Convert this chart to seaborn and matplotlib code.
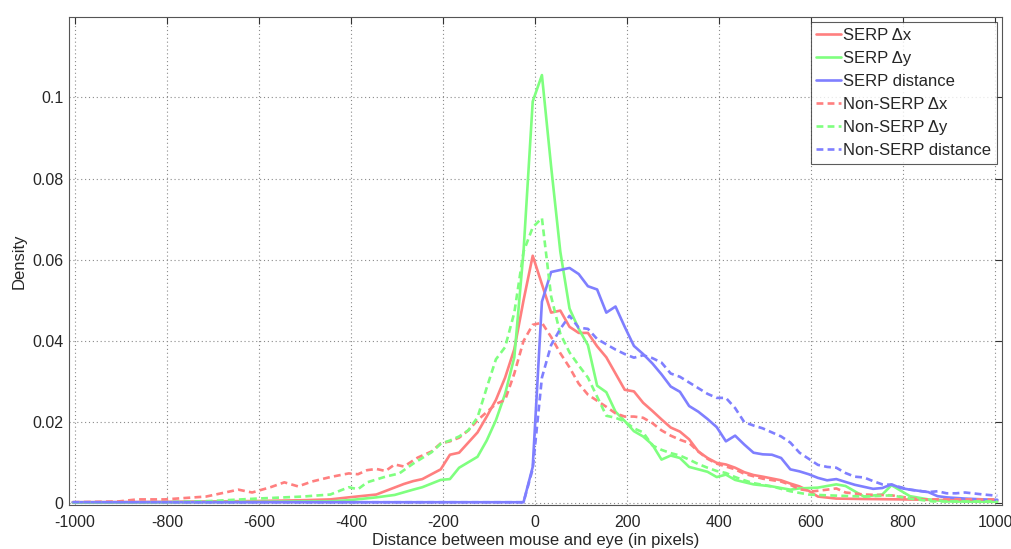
import matplotlib
matplotlib.use("Agg")
import matplotlib.pyplot as plt
import seaborn as sns
import pandas as pd

# ---------------- data ----------------
serp_dx_x = [-1005, -805, -605, -505, -445, -405, -345, -285, -265, -245, -205, -185, -165, -125, -105, -85, -65, -45, -25, -5,
             15, 35, 55, 75, 95, 115, 135, 155, 175, 195, 215, 235, 255, 275, 295, 315, 335, 355, 375, 395, 415, 435, 455, 475,
             495, 535, 555, 575, 595, 615, 655, 715, 795, 855, 915, 1005]
serp_dx_y = [0.0003, 0.0004, 0.0006, 0.0008, 0.001, 0.0015, 0.0022, 0.0048, 0.0055, 0.006, 0.0084, 0.012, 0.0125, 0.0175, 0.0214,
             0.0255, 0.031, 0.038, 0.05, 0.061, 0.054, 0.047, 0.0475, 0.0435, 0.042, 0.042, 0.0387, 0.036, 0.032, 0.028, 0.0276,
             0.0248, 0.0228, 0.0207, 0.0187, 0.0177, 0.0158, 0.0128, 0.0112, 0.0100, 0.0096, 0.0088, 0.0077, 0.007, 0.0066,
             0.0057, 0.0049, 0.0042, 0.0031, 0.0017, 0.0012, 0.0011, 0.001, 0.0009, 0.0008, 0.0007]

serp_dy_x = [-1005, -805, -605, -505, -445, -405, -345, -305, -265, -245, -205, -185, -165, -125, -105, -85, -65, -45, -25, -5,
             15, 35, 55, 75, 95, 115, 135, 155, 175, 195, 215, 235, 255, 275, 295, 315, 335, 355, 375, 395, 415, 435, 475, 515,
             555, 575, 615, 655, 675, 715, 755, 775, 815, 855, 895, 1005]
serp_dy_y = [0.0002, 0.0003, 0.0004, 0.0005, 0.0005, 0.0008, 0.0015, 0.0021, 0.0034, 0.004, 0.0058, 0.006, 0.0088, 0.0115, 0.0155,
             0.0205, 0.027, 0.036, 0.062, 0.099, 0.1055, 0.083, 0.062, 0.048, 0.043, 0.039, 0.029, 0.0274, 0.0226, 0.0203, 0.0178,
             0.0165, 0.0145, 0.0108, 0.0118, 0.0112, 0.009, 0.0084, 0.0078, 0.0065, 0.0071, 0.0058, 0.0047, 0.0042, 0.0034,
             0.0037, 0.0039, 0.0047, 0.0043, 0.0017, 0.0022, 0.0045, 0.0018, 0.001, 0.0005, 0.0004]

serp_dist_x = [-1005, -25, -5, 15, 35, 55, 75, 95, 115, 135, 155, 175, 195, 215, 235, 255, 275, 295, 315, 335, 355, 375, 395, 415,
               435, 455, 475, 495, 515, 535, 555, 575, 595, 615, 635, 655, 675, 695, 715, 735, 755, 775, 795, 815, 855, 875, 895,
               935, 975, 1005]
serp_dist_y = [0.0003, 0.0003, 0.009, 0.0497, 0.057, 0.0575, 0.058, 0.0565, 0.0535, 0.0527, 0.047, 0.0485, 0.0435, 0.0388, 0.0368,
               0.0345, 0.0318, 0.0288, 0.0275, 0.024, 0.0226, 0.0208, 0.0188, 0.0153, 0.0167, 0.0145, 0.0125, 0.0121, 0.012, 0.0112,
               0.0084, 0.0079, 0.0072, 0.0063, 0.0057, 0.006, 0.0053, 0.0046, 0.0041, 0.0036, 0.0038, 0.0047, 0.0038, 0.0034,
               0.0028, 0.0018, 0.0015, 0.0012, 0.001, 0.0009]

nonserp_dx_x = [-1005, -905, -865, -805, -715, -645, -615, -575, -545, -515, -485, -445, -405, -385, -365, -345, -325, -305, -285,
                -255, -225, -205, -185, -165, -145, -125, -105, -85, -65, -45, -25, -5, 15, 35, 55, 75, 95, 115, 135, 155, 175,
                195, 215, 235, 255, 275, 295, 315, 335, 355, 375, 395, 415, 435, 455, 475, 495, 535, 555, 575, 605, 635, 655, 675,
                715, 775, 835, 1005]
nonserp_dx_y = [0.0003, 0.0005, 0.001, 0.001, 0.0017, 0.0034, 0.0027, 0.004, 0.0052, 0.0042, 0.0054, 0.0065, 0.0074, 0.0072, 0.0082,
                0.0085, 0.008, 0.0096, 0.0091, 0.0113, 0.0128, 0.0148, 0.0153, 0.0162, 0.018, 0.0205, 0.0225, 0.0245, 0.0255,
                0.032, 0.040, 0.044, 0.0445, 0.041, 0.037, 0.0335, 0.0295, 0.0268, 0.0253, 0.0238, 0.0222, 0.0214, 0.0214, 0.0211,
                0.0198, 0.018, 0.0167, 0.0157, 0.0149, 0.0128, 0.011, 0.0098, 0.0091, 0.0084, 0.0073, 0.0067, 0.0061, 0.0054,
                0.0046, 0.0035, 0.003, 0.0034, 0.0037, 0.0027, 0.0022, 0.002, 0.001, 0.001]

nonserp_dy_x = [-1005, -805, -705, -605, -505, -445, -405, -385, -365, -325, -295, -265, -225, -205, -185, -165, -145, -125, -105,
                -85, -65, -45, -25, -5, 15, 35, 55, 75, 95, 115, 135, 155, 175, 195, 215, 235, 255, 275, 295, 315, 335, 355, 375,
                395, 415, 435, 455, 475, 515, 555, 595, 635, 715, 775, 815, 865, 1005]
nonserp_dy_y = [0.0002, 0.0003, 0.0006, 0.0012, 0.0017, 0.0022, 0.004, 0.0035, 0.0052, 0.0066, 0.0074, 0.0098, 0.0126, 0.0147,
                0.0155, 0.0165, 0.018, 0.0212, 0.0285, 0.0355, 0.0385, 0.047, 0.062, 0.068, 0.0703, 0.051, 0.0418, 0.0372, 0.034,
                0.031, 0.0263, 0.0216, 0.0211, 0.0202, 0.0185, 0.0175, 0.0143, 0.0132, 0.0124, 0.0118, 0.0108, 0.0097, 0.0088,
                0.008, 0.0075, 0.0065, 0.0057, 0.005, 0.0042, 0.003, 0.0022, 0.002, 0.0017, 0.002, 0.0012, 0.0005, 0.0005]

nonserp_dist_x = [-1005, -25, -5, 15, 35, 55, 75, 95, 115, 135, 155, 175, 195, 215, 235, 255, 275, 295, 315, 335, 355, 375, 395,
                  415, 435, 455, 475, 495, 515, 535, 555, 575, 595, 615, 635, 655, 675, 695, 715, 735, 755, 775, 795, 815, 855,
                  875, 895, 915, 935, 975, 1005]
nonserp_dist_y = [0.0003, 0.0003, 0.0085, 0.031, 0.039, 0.043, 0.0462, 0.0433, 0.043, 0.0405, 0.0392, 0.0379, 0.0368, 0.0359,
                  0.0365, 0.0358, 0.0347, 0.032, 0.0312, 0.0298, 0.0284, 0.027, 0.026, 0.026, 0.0235, 0.02, 0.0192, 0.0185,
                  0.0175, 0.0165, 0.015, 0.0125, 0.011, 0.0095, 0.009, 0.0088, 0.0075, 0.0066, 0.0064, 0.0055, 0.0047, 0.0046,
                  0.004, 0.0034, 0.0028, 0.003, 0.0025, 0.0025, 0.0027, 0.0022, 0.0019]

series_labels = ["SERP \u0394x", "SERP \u0394y", "SERP distance",
                 "Non-SERP \u0394x", "Non-SERP \u0394y", "Non-SERP distance"]
x_ticks = [-1000, -800, -600, -400, -200, 0, 200, 400, 600, 800, 1000]
y_ticks = [0, 0.02, 0.04, 0.06, 0.08, 0.1]
y_tick_labels = ["0", "0.02", "0.04", "0.06", "0.08", "0.1"]

# ---------------- plotting ----------------
sns.set_style("white")
plt.rcParams["font.family"] = ["Liberation Sans", "DejaVu Sans"]
plt.rcParams["axes.unicode_minus"] = False

fig = plt.figure(figsize=(10.11, 5.49), dpi=100)
ax = fig.add_axes([0.0683, 0.080, 0.9227, 0.889])

xs = [serp_dx_x, serp_dy_x, serp_dist_x, nonserp_dx_x, nonserp_dy_x, nonserp_dist_x]
ys = [serp_dx_y, serp_dy_y, serp_dist_y, nonserp_dx_y, nonserp_dy_y, nonserp_dist_y]
colors = ["#ff7f7f", "#7fff7f", "#7f7fff"] * 2
styles = ["-"] * 3 + ["--"] * 3

for xv, yv, lab, col, ls in zip(xs, ys, series_labels, colors, styles):
    df = pd.DataFrame({"x": xv, "y": yv})
    sns.lineplot(data=df, x="x", y="y", ax=ax, color=col, linewidth=1.9,
                 label=lab, estimator=None, sort=False)
    l = ax.lines[-1]
    if ls == "--":
        l.set_dashes((2.6, 1.6))

ax.set_xlim(-1013, 1015)
ax.set_ylim(-0.0004, 0.1198)
ax.set_xticks(x_ticks)
ax.set_xticklabels([str(t) for t in x_ticks])
ax.set_yticks(y_ticks)
ax.set_yticklabels(y_tick_labels)
ax.grid(True, color="#8a8a8a", linestyle=(0, (1, 2.5)), linewidth=0.8)
ax.tick_params(direction="in", length=5, top=True, right=True, labelsize=11.5,
               color="#333333")
ax.tick_params(axis="x", pad=7)
ax.tick_params(axis="y", pad=4)
for sp in ax.spines.values():
    sp.set_color("#555555")
    sp.set_linewidth(0.8)
    sp.set_visible(True)
ax.set_xlabel("Distance between mouse and eye (in pixels)", fontsize=12, labelpad=2)
ax.set_ylabel("Density", fontsize=12, labelpad=4)

leg = ax.legend(loc="upper right", fontsize=12, frameon=True, fancybox=False,
                handlelength=1.5, handletextpad=0.1, labelspacing=0.48,
                borderpad=0.35, borderaxespad=0.3)
leg.get_frame().set_edgecolor("#333333")
leg.get_frame().set_linewidth(0.8)

fig.savefig("out.png", dpi=100)
